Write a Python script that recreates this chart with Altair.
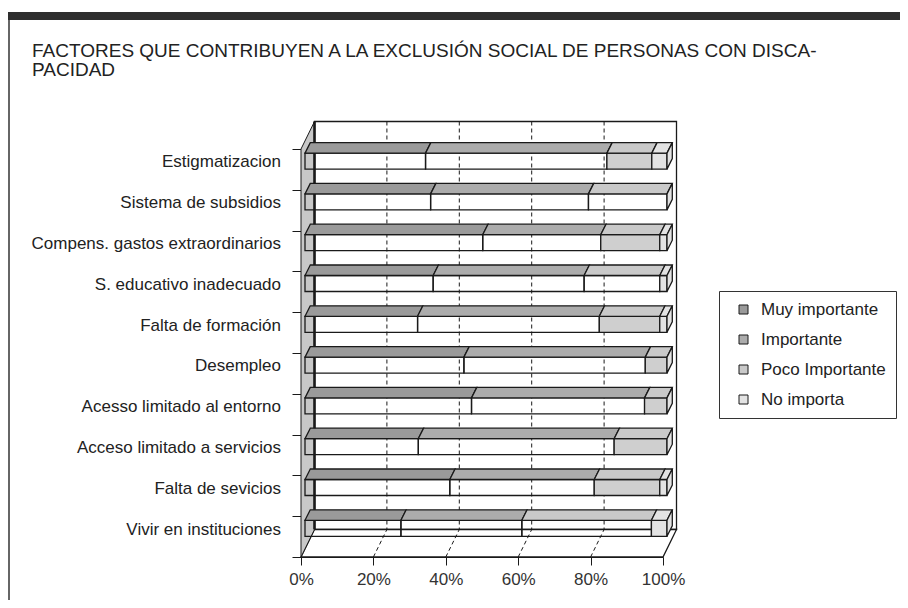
import altair as alt
import pandas as pd

# ---------------- data ----------------
categories = [
    "Estigmatizacion",
    "Sistema de subsidios",
    "Compens. gastos extraordinarios",
    "S. educativo inadecuado",
    "Falta de formación",
    "Desempleo",
    "Acesso limitado al entorno",
    "Acceso limitado a servicios",
    "Falta de sevicios",
    "Vivir en instituciones",
]
series = ["Muy importante", "Importante", "Poco Importante", "No importa"]
muy_importante = [33.3, 34.7, 49.1, 35.4, 31.1, 43.9, 46.0, 31.3, 40.0, 26.5]
importante = [50.1, 43.6, 32.6, 41.7, 50.2, 50.1, 47.8, 54.1, 39.9, 33.4]
poco_importante = [12.4, 21.7, 16.3, 20.9, 16.7, 6.0, 6.2, 14.6, 18.1, 35.8]
no_importa = [4.2, 0.0, 2.0, 2.0, 2.0, 0.0, 0.0, 0.0, 2.0, 4.3]
x_ticks = [0, 20, 40, 60, 80, 100]
title_lines = [
    "FACTORES QUE CONTRIBUYEN A LA EXCLUSIÓN SOCIAL DE PERSONAS CON DISCA-",
    "PACIDAD",
]

# ---------------- layout / style ----------------
W, H = 362, 408
PAD = {"left": 293, "top": 141, "right": 237, "bottom": 43}
XU = 100.0 / W          # data units per pixel (x)
YU = 10.0 / H           # data units per pixel (y)
WALL_DX, WALL_DY = 13.5, 27.5
BAR_DX, BAR_DY = 5.3, 10.5
BAR_SHIFT_X, BAR_SHIFT_Y = 4.0, -8.3
BAR_H = 16
FT = BAR_SHIFT_Y - BAR_H / 2   # front-face top, px from band centre
FB = BAR_SHIFT_Y + BAR_H / 2   # front-face bottom
FONT = "Liberation Sans"
TXT = "#222222"
LINE = "#1a1a1a"
TOP_COLORS = ["#9a9a9a", "#acacac", "#c9c9c9", "#e3e3e3"]
FRONT_FILL = {
    "Muy importante": "transparent",
    "Importante": "transparent",
    "Poco Importante": "#cfcfcf",
    "No importa": "#e3e3e3",
}
UNSHADED_POCO_FRONT = {"Sistema de subsidios", "S. educativo inadecuado", "Vivir en instituciones"}

XS = alt.Scale(domain=[0, 100], nice=False, zero=False)
YS = alt.Scale(domain=[0, 10], reverse=True, nice=False, zero=False)

X_AXIS = alt.Axis(values=x_ticks, labelExpr="datum.value + '%'", tickSize=8, labelFontSize=17,
                  labelFont=FONT, labelColor="#333333", domainColor=LINE, tickColor=LINE,
                  labelPadding=6, grid=False, title=None, labelFlush=False)
Y_AXIS = alt.Axis(values=list(range(11)), labels=False, tickSize=9, domainColor=LINE,
                  tickColor=LINE, grid=False, title=None)


def X(field):
    return alt.X(field, scale=XS, axis=X_AXIS)


def Y(field):
    return alt.Y(field, scale=YS, axis=Y_AXIS)


# ---------------- tables built from the data ----------------
values = [muy_importante, importante, poco_importante, no_importa]
seg_rows = []
totals = []
for i, cat in enumerate(categories):
    start = 0.0
    for s, vals in zip(series, values):
        v = vals[i]
        if v > 0:
            front = FRONT_FILL[s]
            if s == "Poco Importante" and cat in UNSHADED_POCO_FRONT:
                front = "transparent"
            seg_rows.append(dict(cat=cat, series=s, x0=start, x1=start + v, yc=i + 0.5, front=front))
        start += v
    totals.append(start)
segs = pd.DataFrame(seg_rows)

top_rows = []
for r in seg_rows:
    key = r["cat"] + "|" + r["series"]
    top_rows.append(dict(key=key, series=r["series"], y=r["yc"] + FT * YU,
                         xa=r["x0"] + BAR_SHIFT_X * XU, xb=r["x1"] + BAR_SHIFT_X * XU))
    top_rows.append(dict(key=key, series=r["series"], y=r["yc"] + (FT - BAR_DY) * YU,
                         xa=r["x0"] + (BAR_SHIFT_X + BAR_DX) * XU, xb=r["x1"] + (BAR_SHIFT_X + BAR_DX) * XU))
tops = pd.DataFrame(top_rows)

side_rows = []
for i, cat in enumerate(categories):
    yc = i + 0.5
    end = totals[i]
    side_rows.append(dict(cat=cat, x=end + BAR_SHIFT_X * XU, y=yc + FT * YU, y2=yc + FB * YU))
    side_rows.append(dict(cat=cat, x=end + (BAR_SHIFT_X + BAR_DX) * XU,
                          y=yc + (FT - BAR_DY) * YU, y2=yc + (FB - BAR_DY) * YU))
sides = pd.DataFrame(side_rows)

labels_df = pd.DataFrame({"cat": categories, "yc": [i + 0.5 for i in range(len(categories))]})
grid_df = pd.DataFrame({"v": x_ticks[1:-1], "y0": 0, "y1": 10})
one = pd.DataFrame({"a": [0]})

# ---------------- layers ----------------
back_wall = alt.Chart(pd.DataFrame([{"x": 0, "x2": 100, "y": 0, "y2": 10}])).mark_rect(
    fill="white", stroke=LINE, strokeWidth=1.3,
    xOffset=WALL_DX, x2Offset=WALL_DX, yOffset=-WALL_DY, y2Offset=-WALL_DY,
).encode(x=X("x:Q"), x2="x2:Q", y=Y("y:Q"), y2="y2:Q")

floor = alt.Chart(pd.DataFrame([
    {"y": 10, "x": 0, "x2": 100},
    {"y": 10 - WALL_DY * YU, "x": WALL_DX * XU, "x2": 100 + WALL_DX * XU},
])).mark_area(orient="horizontal", fill="white", stroke=LINE, strokeWidth=1.3).encode(
    y=Y("y:Q"), x=X("x:Q"), x2="x2:Q",
)

grid_back = alt.Chart(grid_df).mark_rule(
    color=LINE, strokeWidth=1, strokeDash=[4, 3],
    xOffset=WALL_DX, yOffset=-WALL_DY, y2Offset=-WALL_DY,
).encode(x=X("v:Q"), y=Y("y0:Q"), y2="y1:Q")

grid_floor = alt.Chart(grid_df).mark_rule(
    color=LINE, strokeWidth=1, strokeDash=[4, 3],
    x2Offset=WALL_DX, y2Offset=-WALL_DY,
).encode(x=X("v:Q"), x2="v:Q", y=Y("y1:Q"), y2="y1:Q")

left_wall = alt.Chart(pd.DataFrame([
    {"x": 0, "y": 0, "y2": 10},
    {"x": WALL_DX * XU, "y": -WALL_DY * YU, "y2": 10 - WALL_DY * YU},
])).mark_area(orient="vertical", fill="#c8c8c8", stroke=LINE, strokeWidth=1).encode(
    x=X("x:Q"), y=Y("y:Q"), y2="y2:Q",
)

back_left = alt.Chart(pd.DataFrame([{"x": 0, "y": 0, "y2": 10}])).mark_rule(
    color=LINE, strokeWidth=2.6, xOffset=WALL_DX, yOffset=-WALL_DY, y2Offset=-WALL_DY,
).encode(x=X("x:Q"), y=Y("y:Q"), y2="y2:Q")

fronts = alt.Chart(segs).mark_rect(
    stroke=LINE, strokeWidth=1.3,
    xOffset=BAR_SHIFT_X, x2Offset=BAR_SHIFT_X, yOffset=FT, y2Offset=FB,
).encode(
    x=X("x0:Q"), x2="x1:Q", y=Y("yc:Q"), y2="yc:Q",
    fill=alt.Fill("front:N", scale=None),
)

top_faces = alt.Chart(tops).mark_area(orient="horizontal", stroke=LINE, strokeWidth=1.3).encode(
    y=Y("y:Q"), x=X("xa:Q"), x2="xb:Q",
    detail="key:N",
    fill=alt.Fill("series:N", scale=alt.Scale(domain=series, range=TOP_COLORS),
                  legend=alt.Legend(
                      title=None, orient="none", legendX=418, legendY=142,
                      strokeColor="#333333", fillColor="white", padding=10,
                      symbolType="square", symbolSize=81, symbolStrokeColor=LINE,
                      symbolStrokeWidth=1, symbolOffset=6, labelOffset=9,
                      labelFontSize=17, labelFont=FONT, labelColor=TXT, rowPadding=12,
                      labelLimit=300,
                  )),
)

side_faces = alt.Chart(sides).mark_area(orient="vertical", fill="#e2e2e2", stroke=LINE, strokeWidth=1.3).encode(
    x=X("x:Q"), y=Y("y:Q"), y2="y2:Q", detail="cat:N",
)

ylabels = alt.Chart(labels_df).mark_text(
    align="right", baseline="middle", font=FONT, fontSize=17, color=TXT, yOffset=-7,
).encode(x=alt.value(-20), y=Y("yc:Q"), text="cat:N")

title1 = alt.Chart(one).mark_text(align="left", baseline="alphabetic", font=FONT, fontSize=19, color=TXT).encode(
    x=alt.value(-269), y=alt.value(-92), text=alt.value(title_lines[0]))
title2 = alt.Chart(one).mark_text(align="left", baseline="alphabetic", font=FONT, fontSize=19, color=TXT).encode(
    x=alt.value(-269), y=alt.value(-73), text=alt.value(title_lines[1]))

band = alt.Chart(one).mark_rect(fill="#2e2e2e").encode(
    x=alt.value(-293), x2=alt.value(599), y=alt.value(-137), y2=alt.value(-129))
frame_left = alt.Chart(one).mark_rule(color="#333333", strokeWidth=1.5).encode(
    x=alt.value(-292), y=alt.value(-129), y2=alt.value(451))

chart = alt.layer(
    back_wall, floor, grid_back, grid_floor, left_wall, back_left,
    fronts, top_faces, side_faces, ylabels, title1, title2, band, frame_left,
).properties(
    width=W, height=H, padding=PAD, autosize="none",
).configure_view(stroke=None)

chart.save("out.html", embed_options={"renderer": "svg", "actions": False})
